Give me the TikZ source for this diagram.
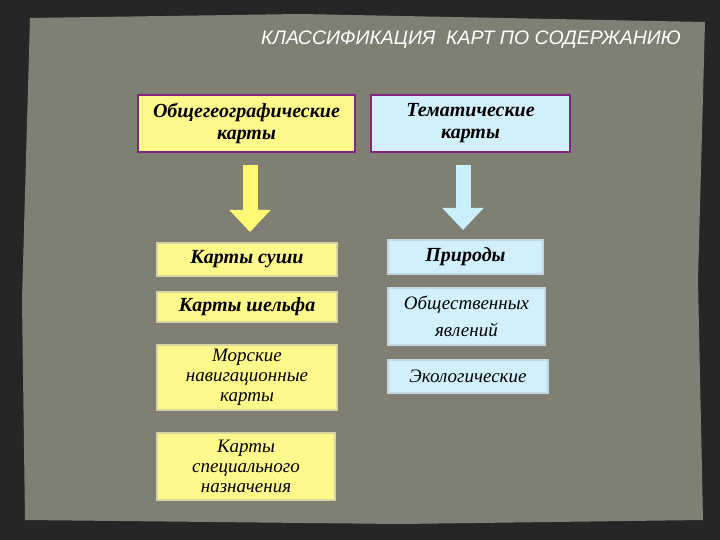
\documentclass[tikz,border=0pt]{standalone}
\usepackage{fontspec}
\setmainfont{Liberation Serif}
\setsansfont{Liberation Sans}
\usetikzlibrary{arrows.meta}
\definecolor{panel}{HTML}{807F74}
\begin{document}
\begin{tikzpicture}[x=1pt,y=-1pt,
  box/.style={draw=#1,line width=1.5pt,align=center,font=\bfseries\itshape\fontsize{20}{22}\selectfont,inner sep=0pt},
  ybox/.style={box=gray!60!yellow!60,fill=yellow!45},
  cbox/.style={box=gray!70!cyan!40,fill=cyan!18},
  harrow/.style={line width=15pt,-{Triangle[width=40pt,length=22pt]},draw=#1}]
\fill[black!85] (0,0) rectangle (720,540);
\fill[panel] (30,18) -- (300,14) -- (705,22) -- (698,280) -- (703,520) -- (400,524) -- (25,520) -- (22,300) -- cycle;
\useasboundingbox (0,0) rectangle (720,540);
\node[font=\sffamily\itshape\fontsize{19.5}{22}\selectfont,text=white] (title) at (471,40) {КЛАССИФИКАЦИЯ\ \ КАРТ ПО СОДЕРЖАНИЮ};
\node[ybox,draw=violet!70!gray,minimum width=217pt,minimum height=57pt,fill=yellow!45] (g) at (246.5,123.5) {Общегеографические\\карты};
\node[cbox,draw=violet!70!gray,minimum width=199pt,minimum height=57pt] (t) at (470.5,123.5) {Тематические\\карты};
\node[ybox,minimum width=180pt,minimum height=33pt] (a1) at (247,259.5) {Карты суши};
\node[ybox,minimum width=180pt,minimum height=30pt] (a2) at (247,307) {Карты шельфа};
\node[ybox,minimum width=180pt,minimum height=65pt,font=\itshape\fontsize{19}{20}\selectfont] (a3) at (247,377.5) {Морские\\навигационные\\карты};
\node[ybox,minimum width=178pt,minimum height=67pt,font=\itshape\fontsize{19}{20}\selectfont] (a4) at (246,466.5) {Карты\\специального\\назначения};
\node[cbox,minimum width=155pt,minimum height=34pt] (b1) at (465.5,257) {Природы};
\node[cbox,minimum width=157pt,minimum height=57pt,font=\itshape\fontsize{19}{27}\selectfont] (b2) at (466.5,316.5) {Общественных\\явлений};
\node[cbox,minimum width=160pt,minimum height=33pt,font=\itshape\fontsize{19}{20}\selectfont] (b3) at (468,376.5) {Экологические};
\coordinate (ga) at (250,165); \coordinate (gb) at (250,232);
\coordinate (ta) at (463,165); \coordinate (tb) at (463,230);
\draw[harrow=yellow!55] (ga) -- (gb);
\draw[harrow=cyan!20] (ta) -- (tb);
\end{tikzpicture}
\end{document}
